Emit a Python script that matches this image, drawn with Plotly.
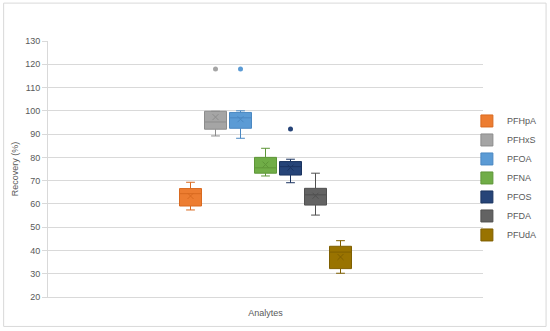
import plotly.graph_objects as go

analytes = ["PFHpA", "PFHxS", "PFOA", "PFNA", "PFOS", "PFDA", "PFUdA"]
colors = ["#ED7D31", "#A5A5A5", "#5B9BD5", "#70AD47", "#264478", "#636363", "#997300"]
lines = ["#D96A20", "#8C8C8C", "#4A88C2", "#5E9638", "#1B3460", "#505050", "#7F5F00"]
q1 = [59.1, 92.1, 92.5, 73.2, 72.4, 59.5, 32.2]
median = [64.4, 95.2, 97.0, 75.5, 76.0, 63.9, 39.3]
q3 = [66.6, 99.8, 99.3, 80.0, 78.2, 66.7, 41.8]
lowerfence = [57.4, 89.2, 88.2, 72.0, 69.1, 55.2, 30.2]
upperfence = [69.3, 99.8, 100.0, 83.9, 79.2, 73.2, 44.2]
means = [63.4, 97.3, 96.4, 76.9, 75.6, 63.5, 37.2]
outlier_idx = [1, 2, 4]
outlier_val = [118.0, 118.0, 92.2]

fig = go.Figure()
for i, name in enumerate(analytes):
    fig.add_trace(go.Box(
        x=[i], q1=[q1[i]], median=[median[i]], q3=[q3[i]],
        lowerfence=[lowerfence[i]], upperfence=[upperfence[i]],
        name=name, fillcolor=colors[i], line=dict(color=lines[i], width=1),
        width=0.88, whiskerwidth=0.4, boxpoints=False,
        hoverinfo="skip",
    ))
for i, name in enumerate(analytes):
    fig.add_trace(go.Scatter(
        x=[i], y=[means[i]], mode="markers", showlegend=False,
        marker=dict(symbol="x-thin-open", size=6, color=lines[i],
                    line=dict(color=lines[i], width=1)),
        hoverinfo="skip",
    ))

for k, idx in enumerate(outlier_idx):
    fig.add_trace(go.Scatter(
        x=[idx], y=[outlier_val[k]], mode="markers", showlegend=False,
        marker=dict(symbol="circle", size=5, color=colors[idx]), hoverinfo="skip",
    ))

fig.add_shape(type="rect", xref="paper", yref="paper",
              x0=-0.102, x1=1.145, y0=-0.115, y1=1.148,
              line=dict(color="#D9D9D9", width=1), layer="below")

fig.update_layout(
    width=550, height=331,
    margin=dict(l=48, r=67, t=41, b=34, autoexpand=False),
    paper_bgcolor="white", plot_bgcolor="white",
    font=dict(family="Liberation Sans, Arial", size=9, color="#595959"),
    showlegend=True,
    legend=dict(x=0.963, y=0.465, xanchor="left", yanchor="middle",
                font=dict(size=9, color="#595959"), tracegroupgap=0,
                itemwidth=30, bgcolor="rgba(0,0,0,0)"),
    xaxis=dict(range=[-5.7, 11.7], showticklabels=False, showgrid=False,
               zeroline=False, showline=True, linecolor="#D9D9D9",
               title=dict(text="Analytes", font=dict(size=9, color="#595959"), standoff=12)),
    yaxis=dict(range=[20, 130], dtick=10, showgrid=True, gridcolor="#D9D9D9",
               zeroline=False, showline=True, linecolor="#D9D9D9",
               ticks="outside", ticklen=5, tickcolor="#D9D9D9",
               tickfont=dict(size=9, color="#595959"),
               title=dict(text="Recovery (%)", font=dict(size=9, color="#595959"), standoff=5)),
)

fig.write_html("out.html", config={"displayModeBar": False},
               post_script="document.body.style.margin='0';")
